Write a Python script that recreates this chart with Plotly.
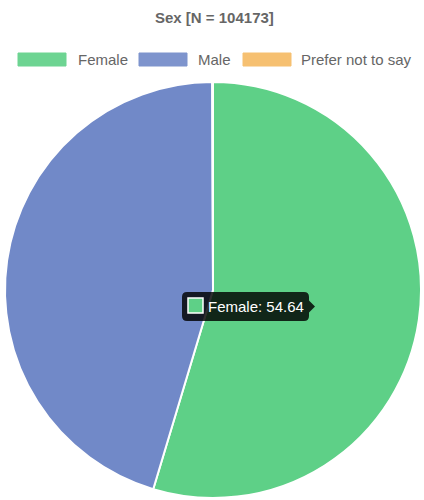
import plotly.graph_objects as go

categories = ["Female", "Male", "Prefer not to say"]
values = [54.64, 45.30, 0.06]
colors = ["#5ed087", "#7189c8", "#f6ba62"]
title_text = "Sex [N = 104173]"

W, H = 424, 500
ML, MR, MT, MB = 3, 1, 82, 2

def px(x):
    return (x - ML) / (W - ML - MR)

def py(y):
    return (H - MB - y) / (H - MT - MB)

fig = go.Figure(go.Pie(
    labels=categories, values=values, sort=False, direction="clockwise", rotation=0,
    marker=dict(colors=colors, line=dict(color="white", width=2)),
    textinfo="none", hoverinfo="label+value", showlegend=False,
))

shapes = []
annotations = []

# title
annotations.append(dict(x=px(214), y=py(17), xref="paper", yref="paper", text="<b>" + title_text + "</b>",
                        showarrow=False, font=dict(family="Liberation Sans, Arial", size=15, color="#666666"),
                        xanchor="center", yanchor="middle"))

# custom legend
legend_boxes = [(18, 76), (139, 196), (243, 299)]
for (bx, tx), lab, col in zip(legend_boxes, categories, colors):
    shapes.append(dict(type="rect", xref="paper", yref="paper", x0=px(bx), x1=px(bx + 48),
                       y0=py(66), y1=py(53), fillcolor=col, opacity=0.9, line=dict(color=col, width=1)))
    annotations.append(dict(x=px(tx), y=py(59.5), xref="paper", yref="paper", text=lab, showarrow=False,
                            xanchor="left", yanchor="middle",
                            font=dict(family="Liberation Sans, Arial", size=15, color="#666666")))

# tooltip box (rounded rect with caret on right)
x0, x1, y0, y1, r = 182, 309, 292, 321, 5
cy = (y0 + y1) / 2
pts = [
    f"M {px(x0 + r)},{py(y0)}",
    f"L {px(x1 - r)},{py(y0)}",
    f"Q {px(x1)},{py(y0)} {px(x1)},{py(y0 + r)}",
    f"L {px(x1)},{py(cy - 6)}",
    f"L {px(x1 + 6)},{py(cy)}",
    f"L {px(x1)},{py(cy + 6)}",
    f"L {px(x1)},{py(y1 - r)}",
    f"Q {px(x1)},{py(y1)} {px(x1 - r)},{py(y1)}",
    f"L {px(x0 + r)},{py(y1)}",
    f"Q {px(x0)},{py(y1)} {px(x0)},{py(y1 - r)}",
    f"L {px(x0)},{py(y0 + r)}",
    f"Q {px(x0)},{py(y0)} {px(x0 + r)},{py(y0)}",
    "Z",
]
shapes.append(dict(type="path", xref="paper", yref="paper", path=" ".join(pts),
                   fillcolor="rgba(0,0,0,0.82)", line=dict(width=0)))
shapes.append(dict(type="rect", xref="paper", yref="paper", x0=px(188), x1=px(203), y0=py(313), y1=py(298),
                   fillcolor=colors[0], line=dict(color="white", width=1.5)))
annotations.append(dict(x=px(206), y=py(306.5), xref="paper", yref="paper",
                        text=f"{categories[0]}: {values[0]:.2f}", showarrow=False,
                        xanchor="left", yanchor="middle",
                        font=dict(family="Liberation Sans, Arial", size=15, color="white")))

fig.update_layout(
    width=W, height=H, margin=dict(l=ML, r=MR, t=MT, b=MB),
    paper_bgcolor="white", plot_bgcolor="white",
    shapes=shapes, annotations=annotations, showlegend=False,
)
fig.write_html("out.html", config={"displayModeBar": False},
               post_script="document.body.style.margin='0';document.body.style.padding='0';")
